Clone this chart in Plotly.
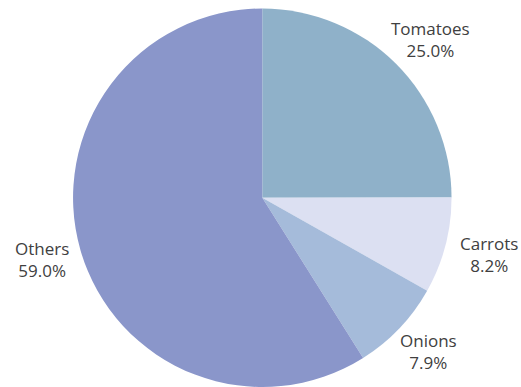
import math
import plotly.graph_objects as go

categories = ["Tomatoes", "Carrots", "Onions", "Others"]
shares = [25.0, 8.2, 7.9, 59.0]
colors = ["#8FB1C9", "#DCE0F2", "#A5BBDA", "#8A96CA"]

W, H = 521, 387
dom_x = [72.3 / W, 452.3 / W]
dom_y = [0.0, 0.978]

LABEL_SIZE = 17
LABEL_GAP = 12

fig = go.Figure(
    go.Pie(
        labels=categories,
        values=shares,
        sort=False,
        direction="clockwise",
        rotation=0,
        marker=dict(colors=colors, line=dict(width=0)),
        textinfo="none",
        showlegend=False,
        hoverinfo="label+value",
        domain=dict(x=dom_x, y=dom_y),
    )
)

# pie geometry in pixels (radius fills the smaller side of the domain)
cx = (dom_x[0] + dom_x[1]) / 2 * W
cy = (1 - (dom_y[0] + dom_y[1]) / 2) * H
radius = min((dom_x[1] - dom_x[0]) * W, (dom_y[1] - dom_y[0]) * H) / 2

# each two-line label box sits just beyond the rim on its slice's middle angle,
# pushed outwards by half its own size so it never overlaps the pie
total = sum(shares)
cum = 0.0
for name, val in zip(categories, shares):
    mid = (cum + val / 2) / total * 2 * math.pi
    cum += val
    text_lines = [name, f"{val:.1f}%"]
    box_w = 0.55 * LABEL_SIZE * max(len(t) for t in text_lines)
    box_h = 2 * 1.3 * LABEL_SIZE
    r = radius + LABEL_GAP
    px = cx + r * math.sin(mid) + math.sin(mid) * box_w / 2
    py = cy - r * math.cos(mid) - math.cos(mid) * box_h / 2
    fig.add_annotation(
        x=px / W,
        y=1 - py / H,
        xref="paper",
        yref="paper",
        text="<br>".join(text_lines),
        showarrow=False,
        xanchor="center",
        yanchor="middle",
        align="center",
        font=dict(family="Open Sans, Noto Sans, sans-serif", size=LABEL_SIZE, color="#404040"),
    )

fig.update_layout(
    width=W,
    height=H,
    margin=dict(l=0, r=0, t=0, b=0),
    paper_bgcolor="white",
    plot_bgcolor="white",
)

fig.write_html("out.html")
